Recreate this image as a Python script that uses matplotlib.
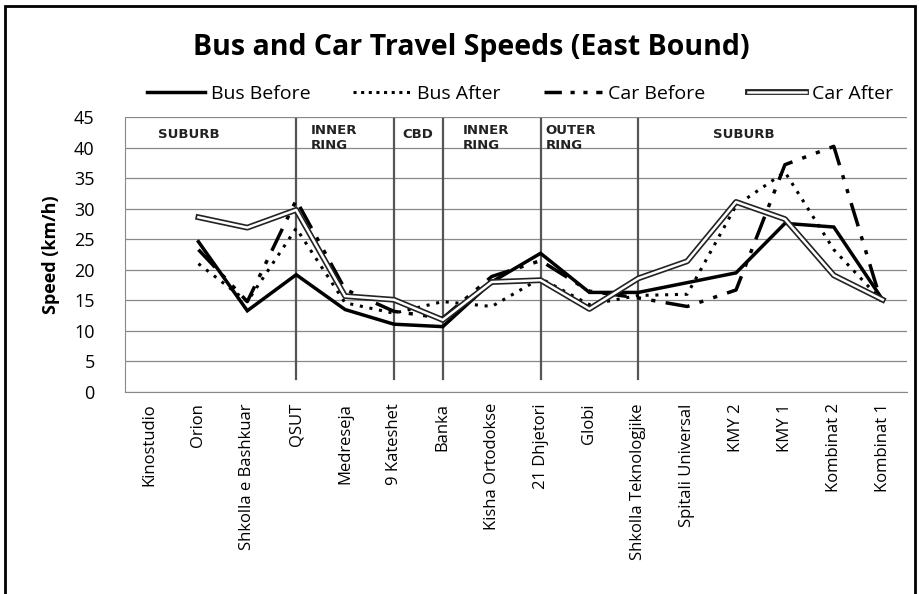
import numpy as np
import matplotlib
matplotlib.use("Agg")
import matplotlib.pyplot as plt
from matplotlib.patches import Rectangle

plt.rcParams['font.family'] = ['Open Sans', 'DejaVu Sans']

# stops along the east bound route
stops = ["Kinostudio", "Orion", "Shkolla e Bashkuar", "QSUT", "Medreseja",
         "9 Kateshet", "Banka", "Kisha Ortodokse", "21 Dhjetori", "Globi",
         "Shkolla Teknologjike", "Spitali Universal", "KMY 2", "KMY 1",
         "Kombinat 2", "Kombinat 1"]

nan = np.nan
bus_before = [nan, 24.6, 13.3, 19.2, 13.5, 11.1, 10.7, 18.0, 22.7, 16.3,
              16.3, 17.9, 19.5, 27.6, 27.0, 15.1]
bus_after = [nan, 21.0, 14.8, 26.8, 14.6, 12.9, 14.8, 14.0, 18.6, 14.3,
             15.8, 16.0, 30.5, 36.0, 23.3, 14.8]
car_before = [nan, 23.3, 14.8, 31.4, 16.8, 13.2, 12.1, 18.9, 21.5, 16.5,
              15.4, 14.0, 16.7, 37.2, 40.2, 14.0]
car_after = [nan, 28.6, 26.9, 29.8, 15.7, 15.1, 11.8, 18.0, 18.3, 13.6,
             18.6, 21.4, 31.1, 28.3, 19.1, 15.1]

# zone boundaries (stop index) and zone labels
zone_bounds = [3, 5, 6, 8, 10]
zone_labels = ["SUBURB", "INNER\nRING", "CBD", "INNER\nRING", "OUTER\nRING", "SUBURB"]
zone_label_x = [0.18, 3.30, 5.18, 6.40, 8.10, 11.52]

fig = plt.figure(figsize=(9.2, 5.94), dpi=100)
ax = fig.add_axes([0.136, 0.340, 0.850, 0.463])

x = np.arange(len(stops))

ax.plot(x, bus_before, color='black', lw=2.5, solid_joinstyle='miter')
ax.plot(x, bus_after, color='black', lw=2.2, linestyle=(0, (1, 2.2)))
ax.plot(x, car_before, color='black', lw=2.5, linestyle=(0, (7, 3, 1.2, 3, 1.2, 3)))
ca_out, = ax.plot(x, car_after, color='#222222', lw=4.2)
ca_in, = ax.plot(x, car_after, color='white', lw=1.8)

for b in zone_bounds:
    ax.plot([b, b], [2.2, 44.6], color='#555555', lw=1.6, zorder=1)

for lx, lab in zip(zone_label_x, zone_labels):
    ax.text(lx, 41.6 if "\n" in lab else 42.1, lab, fontsize=9.5, fontweight='bold',
            va='center', ha='left', color='#222222', family='DejaVu Sans',
            linespacing=1.15)

ax.set_xlim(-0.5, len(stops) - 0.5)
ax.set_ylim(0, 45)
ax.set_yticks(np.arange(0, 46, 5))
ax.set_xticks(x)
ax.set_xticklabels(stops, rotation=90, fontsize=12)
ax.tick_params(axis='y', labelsize=13, length=0, pad=22)
ax.tick_params(axis='x', length=0, pad=8)
ax.grid(axis='y', color='#888888', lw=0.9)
ax.set_axisbelow(True)
for s in ['top', 'right']:
    ax.spines[s].set_visible(False)
for s in ['left', 'bottom']:
    ax.spines[s].set_color('#888888')
ax.set_ylabel("Speed (km/h)", fontsize=13, fontweight='bold', labelpad=10)

fig.text(0.512, 0.92, "Bus and Car Travel Speeds (East Bound)", fontsize=20.5,
         fontweight='bold', ha='center', va='center')

h_bb, = ax.plot([], [], color='black', lw=2.5)
h_ba, = ax.plot([], [], color='black', lw=2.2, linestyle=(0, (1, 1.5)))
h_cb, = ax.plot([], [], color='black', lw=2.5, linestyle=(0, (5, 2.5, 1.2, 2.5, 1.2, 2.5)))
fig.legend([h_bb, h_ba, h_cb, (ca_out, ca_in)],
           ["Bus Before", "Bus After", "Car Before", "Car After"],
           loc='center', bbox_to_anchor=(0.565, 0.842), ncol=4, frameon=False,
           fontsize=14, handlelength=3.0, handletextpad=0.3, columnspacing=2.2)

# outer border of the chart
fig.patches.append(Rectangle((0.005, -0.05), 0.99, 1.04, transform=fig.transFigure,
                             fill=False, edgecolor='black', lw=2))

fig.savefig("out.png", dpi=100)
